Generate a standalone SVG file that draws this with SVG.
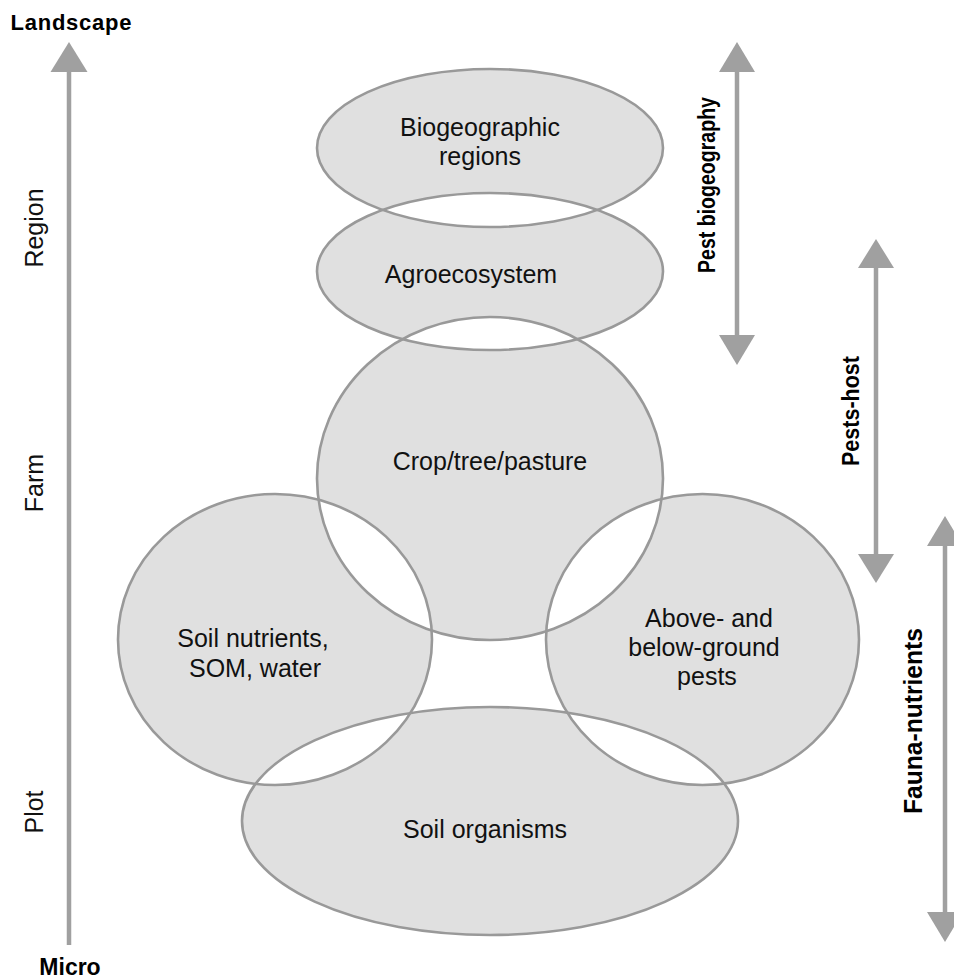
<svg xmlns="http://www.w3.org/2000/svg" width="954" height="980" viewBox="0 0 954 980">
  <style>
    .ring { fill: none; stroke: #999999; stroke-width: 2.6; }
    .fill { fill: #e0e0e0; fill-rule: evenodd; stroke: none; }
    .node { font-family: "Liberation Sans", Arial, sans-serif; font-size: 25px; fill: #111; text-anchor: middle; }
    .scale { font-family: "Liberation Sans", Arial, sans-serif; font-size: 25px; fill: #111; text-anchor: middle; }
    .bold { font-family: "Liberation Sans", Arial, sans-serif; font-weight: bold; fill: #000; text-anchor: middle; }
    .shaft { stroke: #a0a0a0; stroke-width: 4.5; fill: none; }
    .head { fill: #a0a0a0; }
  </style>

  <!-- shared fill: overlapping lenses cancel out to white through even-odd -->
  <g id="fills">
    <path class="fill" d="
      M317,148 a173,79 0 1 0 346,0 a173,79 0 1 0 -346,0 Z
      M317,271.5 a173,78.5 0 1 0 346,0 a173,78.5 0 1 0 -346,0 Z
      M317,478.5 a173,161.5 0 1 0 346,0 a173,161.5 0 1 0 -346,0 Z
      M118,639.5 a157,145.5 0 1 0 314,0 a157,145.5 0 1 0 -314,0 Z
      M546,639.5 a156.5,145.5 0 1 0 313,0 a156.5,145.5 0 1 0 -313,0 Z
      M242,821 a248,114 0 1 0 496,0 a248,114 0 1 0 -496,0 Z"/>
  </g>

  <g id="biogeographic-regions">
    <ellipse class="ring" cx="490" cy="148" rx="173" ry="79"/>
    <text class="node" x="480" y="136">Biogeographic</text>
    <text class="node" x="480" y="165">regions</text>
  </g>

  <g id="agroecosystem">
    <ellipse class="ring" cx="490" cy="271.5" rx="173" ry="78.5"/>
    <text class="node" x="471" y="283">Agroecosystem</text>
  </g>

  <g id="crop-tree-pasture">
    <ellipse class="ring" cx="490" cy="478.5" rx="173" ry="161.5"/>
    <text class="node" x="490" y="470">Crop/tree/pasture</text>
  </g>

  <g id="soil-nutrients">
    <ellipse class="ring" cx="275" cy="639.5" rx="157" ry="145.5"/>
    <text class="node" x="253" y="647">Soil nutrients,</text>
    <text class="node" x="255" y="677">SOM, water</text>
  </g>

  <g id="pests">
    <ellipse class="ring" cx="702.5" cy="639.5" rx="156.5" ry="145.5"/>
    <text class="node" x="709" y="627">Above- and</text>
    <text class="node" x="704" y="656">below-ground</text>
    <text class="node" x="707" y="685">pests</text>
  </g>

  <g id="soil-organisms">
    <ellipse class="ring" cx="490" cy="821" rx="248" ry="114"/>
    <text class="node" x="485" y="838">Soil organisms</text>
  </g>

  <g id="connectors">
    <!-- scale axis, micro to landscape -->
    <line class="shaft" x1="69" y1="945" x2="69" y2="70"/>
    <polygon class="head" points="69,42 50.5,72 87.5,72"/>

    <!-- pest biogeography range -->
    <line class="shaft" x1="737" y1="70" x2="737" y2="338"/>
    <polygon class="head" points="737,42 719,72 755,72"/>
    <polygon class="head" points="737,365 719,335 755,335"/>

    <!-- pests-host range -->
    <line class="shaft" x1="876" y1="266" x2="876" y2="556"/>
    <polygon class="head" points="876,239 858,268 894,268"/>
    <polygon class="head" points="876,583 858,554 894,554"/>

    <!-- fauna-nutrients range -->
    <line class="shaft" x1="945" y1="544" x2="945" y2="914"/>
    <polygon class="head" points="945,516 927,546 963,546"/>
    <polygon class="head" points="945,942 927,912 963,912"/>
  </g>

  <g id="axis-labels">
    <text class="bold" x="71" y="30" font-size="22" textLength="121">Landscape</text>
    <text class="bold" x="70" y="975" font-size="23">Micro</text>
    <text class="scale" transform="translate(43,228) rotate(-90)">Region</text>
    <text class="scale" transform="translate(43,483) rotate(-90)">Farm</text>
    <text class="scale" transform="translate(43,812) rotate(-90)">Plot</text>
  </g>

  <g id="range-labels">
    <text class="bold" font-size="24" textLength="176" lengthAdjust="spacingAndGlyphs" transform="translate(715,185) rotate(-90)">Pest biogeography</text>
    <text class="bold" font-size="24" textLength="110" lengthAdjust="spacingAndGlyphs" transform="translate(859,411) rotate(-90)">Pests-host</text>
    <text class="bold" font-size="25" textLength="186" lengthAdjust="spacingAndGlyphs" transform="translate(922,721) rotate(-90)">Fauna-nutrients</text>
  </g>
</svg>
